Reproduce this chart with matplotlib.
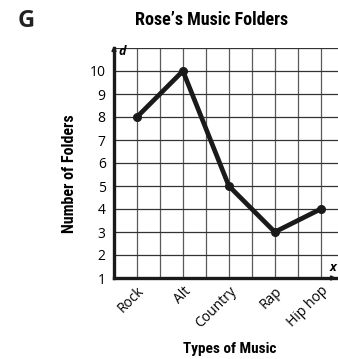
import matplotlib
matplotlib.use("Agg")
import matplotlib.pyplot as plt
from matplotlib import font_manager

genres = ["Rock", "Alt", "Country", "Rap", "Hip hop"]
folders = [8, 10, 5, 3, 4]
y_ticks = [1, 2, 3, 4, 5, 6, 7, 8, 9, 10]

names = {f.name for f in font_manager.fontManager.ttflist}


def pick(candidates):
    for c in candidates:
        if c in names:
            return c
    return "DejaVu Sans"


narrow = pick(["Roboto Condensed", "Open Sans Condensed", "Liberation Sans Narrow",
               "Liberation Sans"])
body = pick(["Open Sans", "Liberation Sans"])

W, H = 338, 359
fig = plt.figure(figsize=(W / 100, H / 100), dpi=100)
ax = fig.add_axes([114 / W, 81 / H, 1 - 114 / W, 230 / H])

xpos = [1 + 2 * i for i in range(len(genres))]
ax.set_xlim(0, 9.75)
ax.set_ylim(1, 11)

# square grid
for gx in range(1, 10):
    ax.axvline(gx, color="#5a5a5a", lw=0.9, zorder=1)
for gy in range(2, 12):
    ax.axhline(gy, color="#333333", lw=0.9, zorder=1)

ax.plot(xpos, folders, color="#1a1a1a", lw=3.4, marker="o", ms=5.5,
        solid_capstyle="round", zorder=3, clip_on=False)

for s in ["top", "right"]:
    ax.spines[s].set_visible(False)
for s in ["left", "bottom"]:
    ax.spines[s].set_linewidth(2.4)
    ax.spines[s].set_color("#1a1a1a")

# axis arrows
ax.annotate("", xy=(0, 11.22), xytext=(0, 10.8), xycoords="data",
            arrowprops=dict(arrowstyle="-|>", color="#1a1a1a", lw=1.4,
                            mutation_scale=6), annotation_clip=False)
ax.annotate("", xy=(9.8, 1), xytext=(9.3, 1), xycoords="data",
            arrowprops=dict(arrowstyle="-|>", color="#1a1a1a", lw=1.4,
                            mutation_scale=6), annotation_clip=False)
ax.text(0.36, 10.85, "d", fontsize=9, fontweight="bold", style="italic",
        family=body, ha="center", va="center")
ax.text(9.55, 1.47, "x", fontsize=9, fontweight="bold", style="italic",
        family=body, ha="center", va="center")

ax.set_yticks(y_ticks)
ax.set_yticklabels([str(v) for v in y_ticks], family=body, fontsize=10)
ax.set_xticks(xpos)
ax.set_xticklabels(genres, family=body, fontsize=10, rotation=45,
                   ha="right", va="top", rotation_mode="anchor")
ax.tick_params(length=0)
ax.tick_params(axis="y", pad=6)
ax.tick_params(axis="x", pad=4)

fig.text(69 / W, 1 - 174 / H, "Number of Folders", family=narrow,
         fontweight="bold", fontsize=11.5, rotation=90,
         ha="center", va="center")
fig.text(230 / W, 1 - 349 / H, "Types of Music", family=narrow,
         fontweight="bold", fontsize=11, ha="center", va="center")
fig.text(212 / W, 1 - 20 / H, "Rose\u2019s Music Folders", family=narrow,
         fontweight="bold", fontsize=13, ha="center", va="center")
fig.text(26 / W, 1 - 21 / H, "G", family=body, fontweight="bold",
         fontsize=17, ha="center", va="center", color="#222222")

fig.savefig("out.png", dpi=100)
